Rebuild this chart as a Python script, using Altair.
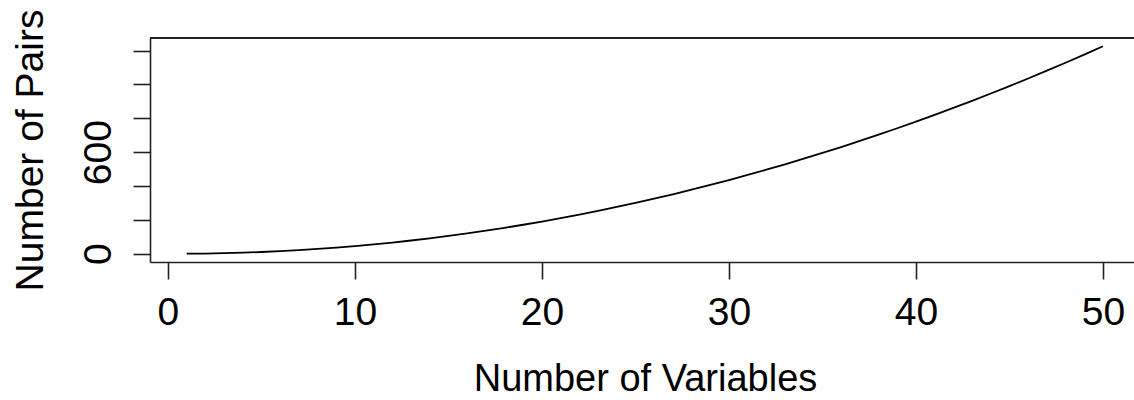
import altair as alt
import pandas as pd

variables = list(range(1, 51))
pairs = [0, 1, 3, 6, 10, 15, 21, 28, 36, 45,
         55, 66, 78, 91, 105, 120, 136, 153, 171, 190,
         210, 231, 253, 276, 300, 325, 351, 378, 406, 435,
         465, 496, 528, 561, 595, 630, 666, 703, 741, 780,
         820, 861, 903, 946, 990, 1035, 1081, 1128, 1176, 1225]
x_ticks = [0, 10, 20, 30, 40, 50]
y_ticks = [0, 200, 400, 600, 800, 1000, 1200]

df = pd.DataFrame({"n": variables, "pairs": pairs})

FONT = "Liberation Sans"
W, H = 984, 224

line = alt.Chart(df).mark_line(color="black", strokeWidth=1.8).encode(
    x=alt.X("n:Q",
            scale=alt.Scale(domain=[-0.96, 51.66], nice=False, zero=False),
            axis=alt.Axis(values=x_ticks, title="Number of Variables",
                          grid=False, tickSize=17, tickWidth=1.6, tickColor="#222",
                          domainColor="#222", domainWidth=1.6,
                          labelFont=FONT, labelFontSize=39, labelColor="black",
                          labelBaseline="alphabetic", labelPadding=45,
                          labelFlush=False, labelOverlap=False,
                          titleFont=FONT, titleFontSize=38, titleFontWeight="normal",
                          titleColor="black", titleBaseline="alphabetic",
                          titleX=495, titleY=128, titleAlign="center")),
    y=alt.Y("pairs:Q",
            scale=alt.Scale(domain=[-49, 1274], nice=False, zero=False),
            axis=alt.Axis(values=y_ticks, title="Number of Pairs",
                          labelExpr="datum.value == 0 || datum.value == 600 ? datum.label : ''",
                          grid=False, tickSize=17, tickWidth=1.6, tickColor="#222",
                          domainColor="#222", domainWidth=1.6,
                          labelFont=FONT, labelFontSize=39, labelColor="black",
                          labelAngle=270, labelAlign="center", labelBaseline="alphabetic",
                          labelPadding=23, labelFlush=False, labelOverlap=False,
                          titleFont=FONT, titleFontSize=39, titleFontWeight="normal",
                          titleColor="black", titleAngle=270, titleBaseline="alphabetic",
                          titleAlign="center", titleX=-108, titleY=112)),
)

top_rule = alt.Chart(df).mark_rule(color="#222", strokeWidth=1.6).encode(
    x=alt.value(0), x2=alt.value(W), y=alt.value(0)
)

chart = alt.layer(top_rule, line).properties(
    width=W, height=H,
    autosize=alt.AutoSizeParams(type="none"),
    padding={"left": 150, "top": 38, "right": 0, "bottom": 138},
).configure_view(stroke=None).configure(background="white")

chart.save("out.html", embed_options={"renderer": "svg", "actions": False})
